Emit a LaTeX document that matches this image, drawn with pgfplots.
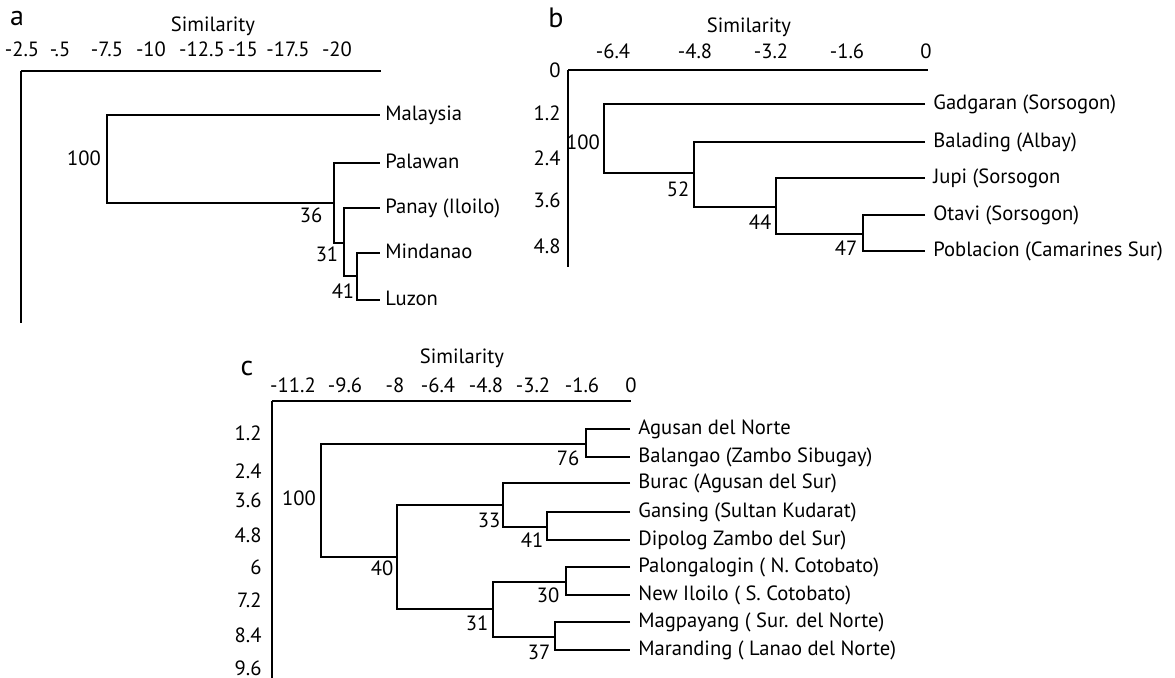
\documentclass[border=0pt]{standalone}
\usepackage{fontspec}
\setmainfont{PT Sans}
\usepackage{pgfplots}
\pgfplotsset{compat=1.18}
\newcommand{\fs}{\fontsize{10.3}{12}\selectfont}
\pgfplotsset{
  dendro/.style={
    x=0.5pt, y=0.5pt, anchor=north west,
    axis x line*=top, axis y line*=left,
    axis line style={-, line width=0.7pt, black},
    enlargelimits=false, clip=false,
    major tick length=0pt, tick style={draw=none},
    every tick label/.append style={font=\fs, inner sep=0pt},
    xticklabel style={anchor=base},
    yticklabel style={anchor=east},
    every axis x label/.append style={font=\fs, anchor=base},
  },
  br/.style={black, line width=0.7pt, no markers, forget plot},
}
\tikzset{
  leaf/.style={font=\fs, anchor=base west, yshift=-3pt, inner sep=0pt},
  sup/.style={font=\fs, anchor=center, inner sep=0pt},
  pan/.style={font=\fontsize{14}{16}\selectfont, anchor=center, inner sep=0pt},
}
\begin{document}
\begin{tikzpicture}
\path[use as bounding box] (0,0) rectangle (587.5pt,-339pt);
% ---------------- panel a ----------------
\begin{axis}[dendro, at={(10.5pt,-35.5pt)},
  xmin=21, xmax=381, ymin=-323, ymax=-71,
  xtick={22,60,107,151,202,243,288,337},
  xticklabels={-2.5,-.5,-7.5,-10,-12.5,-15,-17.5,-20},
  xticklabel style={yshift=7pt},
  ytick=\empty,
  xlabel={Similarity},
  xlabel style={at={(axis cs:213,-71)}, yshift=19.5pt},
]
\addplot[br] coordinates {(380,-115) (107,-115) (107,-203) (334,-203)};
\addplot[br] coordinates {(380,-163) (334,-163) (334,-243) (344,-243)};
\addplot[br] coordinates {(380,-208) (344,-208) (344,-276) (357,-276)};
\addplot[br] coordinates {(380,-253) (357,-253) (357,-300) (380,-300)};
\node[leaf] at (axis cs:385,-115) {Malaysia};
\node[leaf] at (axis cs:385,-163) {Palawan};
\node[leaf] at (axis cs:385,-208) {Panay (Iloilo)};
\node[leaf] at (axis cs:385,-253) {Mindanao};
\node[leaf] at (axis cs:385,-300) {Luzon};
\node[sup] at (axis cs:84,-158) {100};
\node[sup] at (axis cs:311,-215) {36};
\node[sup] at (axis cs:327,-254) {31};
\node[sup] at (axis cs:343,-291) {41};
\node[pan] at (axis cs:17,-19) {a};
\end{axis}
% ---------------- panel b ----------------
\begin{axis}[dendro, at={(284pt,-35pt)},
  xmin=568, xmax=928, ymin=-267, ymax=-70,
  xtick={613,695,771,847,926},
  xticklabels={-6.4,-4.8,-3.2,-1.6,0},
  xticklabel style={yshift=5.5pt},
  ytick={-70,-113,-158,-200,-246},
  yticklabels={0,1.2,2.4,3.6,4.8},
  yticklabel style={xshift=-3.5pt},
  xlabel={Similarity},
  xlabel style={at={(axis cs:749,-70)}, yshift=18.5pt},
]
\addplot[br] coordinates {(925,-104) (604,-104) (604,-173) (694,-173)};
\addplot[br] coordinates {(925,-142) (694,-142) (694,-207) (776,-207)};
\addplot[br] coordinates {(925,-178) (776,-178) (776,-234) (863,-234)};
\addplot[br] coordinates {(925,-215) (863,-215) (863,-251) (925,-251)};
\node[leaf] at (axis cs:933,-104) {Gadgaran (Sorsogon)};
\node[leaf] at (axis cs:933,-142) {Balading (Albay)};
\node[leaf] at (axis cs:933,-178) {Jupi (Sorsogon};
\node[leaf] at (axis cs:933,-215) {Otavi (Sorsogon)};
\node[leaf] at (axis cs:933,-251) {Poblacion (Camarines Sur)};
\node[sup] at (axis cs:583,-142) {100};
\node[sup] at (axis cs:678,-189) {52};
\node[sup] at (axis cs:760,-222) {44};
\node[sup] at (axis cs:846,-248) {47};
\node[pan] at (axis cs:556,-18) {b};
\end{axis}
% ---------------- panel c ----------------
\begin{axis}[dendro, at={(136pt,-200.5pt)},
  xmin=272, xmax=631, ymin=-678, ymax=-401,
  xtick={293,345,395,438,486,533,582,631},
  xticklabels={-11.2,-9.6,-8,-6.4,-4.8,-3.2,-1.6,0},
  xticklabel style={yshift=4pt},
  ytick={-433,-471,-500,-535,-567,-600,-635,-668},
  yticklabels={1.2,2.4,3.6,4.8,6,7.2,8.4,9.6},
  yticklabel style={xshift=-5pt},
  xlabel={Similarity},
  xlabel style={at={(axis cs:462,-401)}, yshift=18.5pt},
]
\addplot[br] coordinates {(586,-444) (321,-444) (321,-557) (397,-557)};
\addplot[br] coordinates {(630,-429) (586,-429) (586,-457) (630,-457)};
\addplot[br] coordinates {(503,-505) (397,-505) (397,-609) (493,-609)};
\addplot[br] coordinates {(630,-483) (503,-483) (503,-527) (547,-527)};
\addplot[br] coordinates {(630,-512) (547,-512) (547,-540) (630,-540)};
\addplot[br] coordinates {(566,-582) (493,-582) (493,-637) (555,-637)};
\addplot[br] coordinates {(630,-567) (566,-567) (566,-595) (630,-595)};
\addplot[br] coordinates {(630,-622) (555,-622) (555,-650) (630,-650)};
\node[leaf] at (axis cs:638,-429) {Agusan del Norte};
\node[leaf] at (axis cs:638,-457) {Balangao (Zambo Sibugay)};
\node[leaf] at (axis cs:638,-483) {Burac (Agusan del Sur)};
\node[leaf] at (axis cs:638,-512) {Gansing (Sultan Kudarat)};
\node[leaf] at (axis cs:638,-540) {Dipolog Zambo del Sur)};
\node[leaf] at (axis cs:638,-567) {Palongalogin ( N. Cotobato)};
\node[leaf] at (axis cs:638,-595) {New Iloilo ( S. Cotobato)};
\node[leaf] at (axis cs:638,-622) {Magpayang ( Sur. del Norte)};
\node[leaf] at (axis cs:638,-650) {Maranding ( Lanao del Norte)};
\node[sup] at (axis cs:568,-458) {76};
\node[sup] at (axis cs:299,-498) {100};
\node[sup] at (axis cs:489,-520) {33};
\node[sup] at (axis cs:532,-540) {41};
\node[sup] at (axis cs:382,-568) {40};
\node[sup] at (axis cs:548,-595) {30};
\node[sup] at (axis cs:477,-623) {31};
\node[sup] at (axis cs:539,-652) {37};
\node[pan] at (axis cs:247,-369) {c};
\end{axis}
\end{tikzpicture}
\end{document}
